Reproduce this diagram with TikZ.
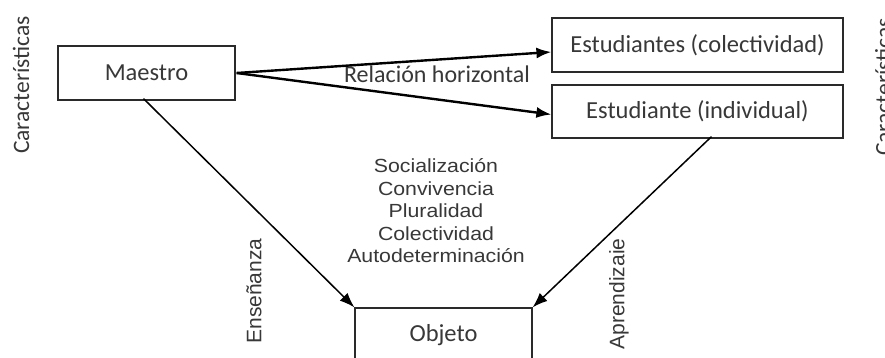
\documentclass[tikz,border=0pt]{standalone}
\usepackage{fontspec}
\setmainfont{Carlito}
\newfontfamily\arialf{Liberation Sans}
\usetikzlibrary{arrows.meta}
\definecolor{txt}{HTML}{383838}
\definecolor{edge}{HTML}{2A2A2A}
\tikzset{
  box/.style={draw=edge, line width=1.2pt, text=txt, inner sep=0pt, font=\fontsize{24.5}{28}\selectfont},
  harrow/.style={line width=2.4pt, -{Latex[length=15pt,width=11pt]}},
  darrow/.style={line width=1.5pt, -{Latex[length=15pt,width=11pt]}},
  vlabel/.style={rotate=90, text=txt, inner sep=0pt},
}
\begin{document}
\begin{tikzpicture}[x=1pt,y=-1pt]
\useasboundingbox[fill=white] (0,0) rectangle (885,358);
\node[box, minimum width=177pt, minimum height=54pt] (maestro) at (146.5,73) {Maestro};
\node[box, minimum width=291pt, minimum height=54pt] (col) at (697.5,45) {Estudiantes (colectividad)};
\node[box, minimum width=291pt, minimum height=53pt] (ind) at (697.5,111.5) {Estudiante (individual)};
\node[box, minimum width=177pt, minimum height=54pt] (obj) at (443.5,335) {Objeto};

\node[vlabel, font=\fontsize{23.5}{28}\selectfont] (carl) at (21,85) {Características};
\node[vlabel, anchor=north, font=\fontsize{23.5}{28}\selectfont] (carr) at (875,87) {Características};

\node[text=txt, anchor=base, font=\fontsize{24}{28}\selectfont, inner sep=0pt] (rel) at (437,83) {Relación horizontal};

\node[text=txt, align=center, inner sep=0pt, font=\arialf\fontsize{19}{22.5}\selectfont, xscale=1.12] (list) at (436,211)
  {Socialización\\Convivencia\\Pluralidad\\Colectividad\\Autodeterminación};

\node[vlabel, font=\arialf\fontsize{21}{25}\selectfont] (ens) at (254,291) {Enseñanza};
\node[vlabel, font=\arialf\fontsize{21}{25}\selectfont] (apr) at (619,294) {Aprendizaie};

\coordinate (mstart) at ([xshift=1pt]maestro.east);
\draw[harrow] (mstart) -- ([yshift=-7pt]col.west);
\draw[harrow] (mstart) -- ([yshift=-3pt]ind.west);
\draw[darrow] ([xshift=-3pt,yshift=2pt]maestro.south) -- (obj.north west);
\draw[darrow] ([xshift=14pt,yshift=2pt]ind.south) -- (obj.north east);
\end{tikzpicture}
\end{document}
